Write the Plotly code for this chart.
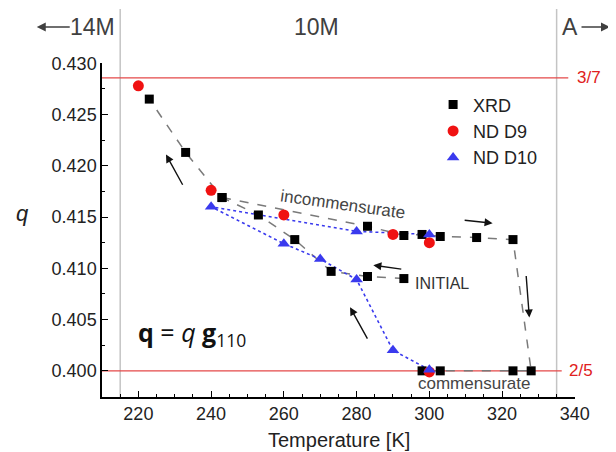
import plotly.graph_objects as go

# ---------------- data ----------------
# XRD: initial cooling branch (measurement order)
T_xrd_initial = [293, 283, 273, 263, 253, 243, 233, 223]
q_xrd_initial = [0.4090, 0.4092, 0.4097, 0.4128, 0.4152, 0.4169, 0.4213, 0.4265]
# XRD: heating / cooling cycle
T_xrd_cycle = [243, 283, 293, 298, 303, 313, 323, 328, 323, 303, 298]
q_xrd_cycle = [0.4169, 0.4141, 0.4132, 0.4133, 0.4131, 0.4130, 0.4128,
               0.4000, 0.4000, 0.4000, 0.4000]

# ND D9
T_d9 = [220, 240, 260, 290, 300, 300]
q_d9 = [0.4278, 0.4176, 0.4152, 0.4133, 0.4125, 0.3999]

# ND D10 (measurement order)
T_d10 = [300, 290, 280, 270, 260, 240, 280, 300]
q_d10 = [0.4001, 0.4020, 0.4089, 0.4109, 0.4124, 0.4160, 0.4136, 0.4133]

# phase boundaries and commensurate values
phase_T = [215, 335]
comm_q = [3 / 7, 2 / 5]
comm_labels = ["3/7", "2/5"]

x_ticks = [220, 240, 260, 280, 300, 320, 340]

BLACK = "#000000"
RED = "#f01212"
BLUE = "#3a3aee"
GREYLINE = "#7a7a7a"

fig = go.Figure()

# connecting lines
fig.add_trace(go.Scatter(x=T_xrd_initial, y=q_xrd_initial, mode="lines",
                         line=dict(color=GREYLINE, width=1.5, dash="dash"),
                         showlegend=False, hoverinfo="skip"))
fig.add_trace(go.Scatter(x=T_xrd_cycle, y=q_xrd_cycle, mode="lines",
                         line=dict(color=GREYLINE, width=1.5, dash="dash"),
                         showlegend=False, hoverinfo="skip"))
fig.add_trace(go.Scatter(x=T_d10, y=q_d10, mode="lines",
                         line=dict(color=BLUE, width=1.6, dash="dot"),
                         showlegend=False, hoverinfo="skip"))

# markers
fig.add_trace(go.Scatter(x=T_xrd_initial + T_xrd_cycle, y=q_xrd_initial + q_xrd_cycle,
                         mode="markers", name="XRD",
                         marker=dict(symbol="square", size=9, color=BLACK)))
fig.add_trace(go.Scatter(x=T_d9, y=q_d9, mode="markers", name="ND D9",
                         marker=dict(symbol="circle", size=11, color=RED)))
fig.add_trace(go.Scatter(x=T_d10, y=q_d10, mode="markers", name="ND D10",
                         marker=dict(symbol="triangle-up", size=11, color=BLUE)))

shapes = []
for t in phase_T:
    shapes.append(dict(type="line", xref="x", yref="paper", x0=t, x1=t, y0=0, y1=1.162,
                       line=dict(color="#c4c4c4", width=1.5), layer="below"))
line_ends = [338.2, 336.4]
for qv, xe in zip(comm_q, line_ends):
    shapes.append(dict(type="line", xref="x", yref="y", x0=210, x1=xe, y0=qv, y1=qv,
                       line=dict(color="#e44848", width=1.2), layer="below"))

ann = []
# commensurate labels
for qv, lab, xp in zip(comm_q, comm_labels, [1.0, 0.983]):
    ann.append(dict(xref="paper", yref="y", x=xp, y=qv, text=lab, showarrow=False,
                    xanchor="left", yanchor="middle", font=dict(size=17, color="#e02020")))

TOPY = 1.108
topfont = dict(size=23, color="#404040")
# phase labels with arrows pointing to neighbouring phases
ann.append(dict(xref="paper", yref="paper", x=-0.138, y=TOPY, text="14M", showarrow=True,
                ax=56, ay=0, arrowhead=2, arrowsize=1.2, arrowwidth=1.5, arrowcolor="#404040",
                standoff=0, startstandoff=0, borderpad=0, font=topfont))
ann.append(dict(xref="paper", yref="paper", x=0.401, y=TOPY, text="10M", showarrow=False,
                xanchor="left", yanchor="middle", font=topfont))
ann.append(dict(xref="paper", yref="paper", x=1.074, y=TOPY, text="A", showarrow=True,
                ax=-40, ay=0, arrowhead=2, arrowsize=1.2, arrowwidth=1.5, arrowcolor="#404040",
                standoff=0, startstandoff=3, borderpad=0, font=topfont))

# direction arrows (head, tail)
arrows = [
    ((227.6, 0.4211), (232.4, 0.4180)),
    ((317.4, 0.4144), (309.3, 0.4147)),
    ((284.6, 0.4103), (292.7, 0.4099)),
    ((278.2, 0.4062), (283.2, 0.4030)),
    ((327.5, 0.4052), (326.6, 0.4094)),
]
for (hx, hy), (tx, ty) in arrows:
    ann.append(dict(xref="x", yref="y", axref="x", ayref="y", x=hx, y=hy, ax=tx, ay=ty,
                    text="", showarrow=True, arrowhead=2, arrowsize=1.15, arrowwidth=1.4,
                    arrowcolor="#111111"))

# text labels
ann.append(dict(xref="x", yref="y", x=276.3, y=0.41625, text="incommensurate", showarrow=False,
                textangle=8, font=dict(size=17, color="#454545")))
ann.append(dict(xref="x", yref="y", x=303.6, y=0.40856, text="INITIAL", showarrow=False,
                font=dict(size=16, color="#333333")))
ann.append(dict(xref="x", yref="y", x=312.3, y=0.39878, text="commensurate", showarrow=False,
                font=dict(size=17, color="#454545")))
ann.append(dict(xref="x", yref="y", x=234.7, y=0.40369,
                text="<b>q</b> = <i>q</i> <b>g</b><sub>110</sub>", showarrow=False,
                font=dict(size=25, color="#111111", family="Open Sans, Noto Sans, sans-serif")))

# axis titles
ann.append(dict(xref="paper", yref="paper", x=0.5, y=-0.13, text="Temperature [K]",
                showarrow=False, xanchor="center", yanchor="middle",
                font=dict(size=20, color="#222222")))
ann.append(dict(xref="paper", yref="paper", x=-0.169, y=0.55, text="<i>q</i>",
                showarrow=False, xanchor="center", yanchor="middle",
                font=dict(size=22, color="#222222")))

# page body has an 8px margin: figure is sized/offset to fit the 616x452 window
fig.update_layout(
    width=608, height=444,
    margin=dict(l=94, r=41, t=55, b=55),
    plot_bgcolor="white", paper_bgcolor="white",
    font=dict(family="Liberation Sans, Arial, sans-serif", size=18, color="#222222"),
    shapes=shapes, annotations=ann,
    legend=dict(x=0.70, y=0.93, xanchor="left", yanchor="top", bgcolor="rgba(0,0,0,0)",
                font=dict(size=18, color="#222222")),
    xaxis=dict(range=[210, 340.05], tickmode="array", tickvals=x_ticks,
               ticks="inside", ticklen=6, tickwidth=1.3, tickcolor="black",
               showline=True, linecolor="black", linewidth=1.5,
               showgrid=False, zeroline=False,
               minor=dict(dtick=5, tick0=0, ticks="inside", ticklen=3, tickwidth=1.2,
                          tickcolor="black", showgrid=False)),
    yaxis=dict(range=[0.39745, 0.43002], dtick=0.005, tick0=0, tickformat=".3f",
               ticks="inside", ticklen=6, tickwidth=1.3, tickcolor="black",
               showline=True, linecolor="black", linewidth=1.5,
               showgrid=False, zeroline=False,
               minor=dict(dtick=0.0025, ticks="inside", ticklen=3, tickwidth=1.2,
                          tickcolor="black", showgrid=False)),
)

fig.write_html("out.html")
